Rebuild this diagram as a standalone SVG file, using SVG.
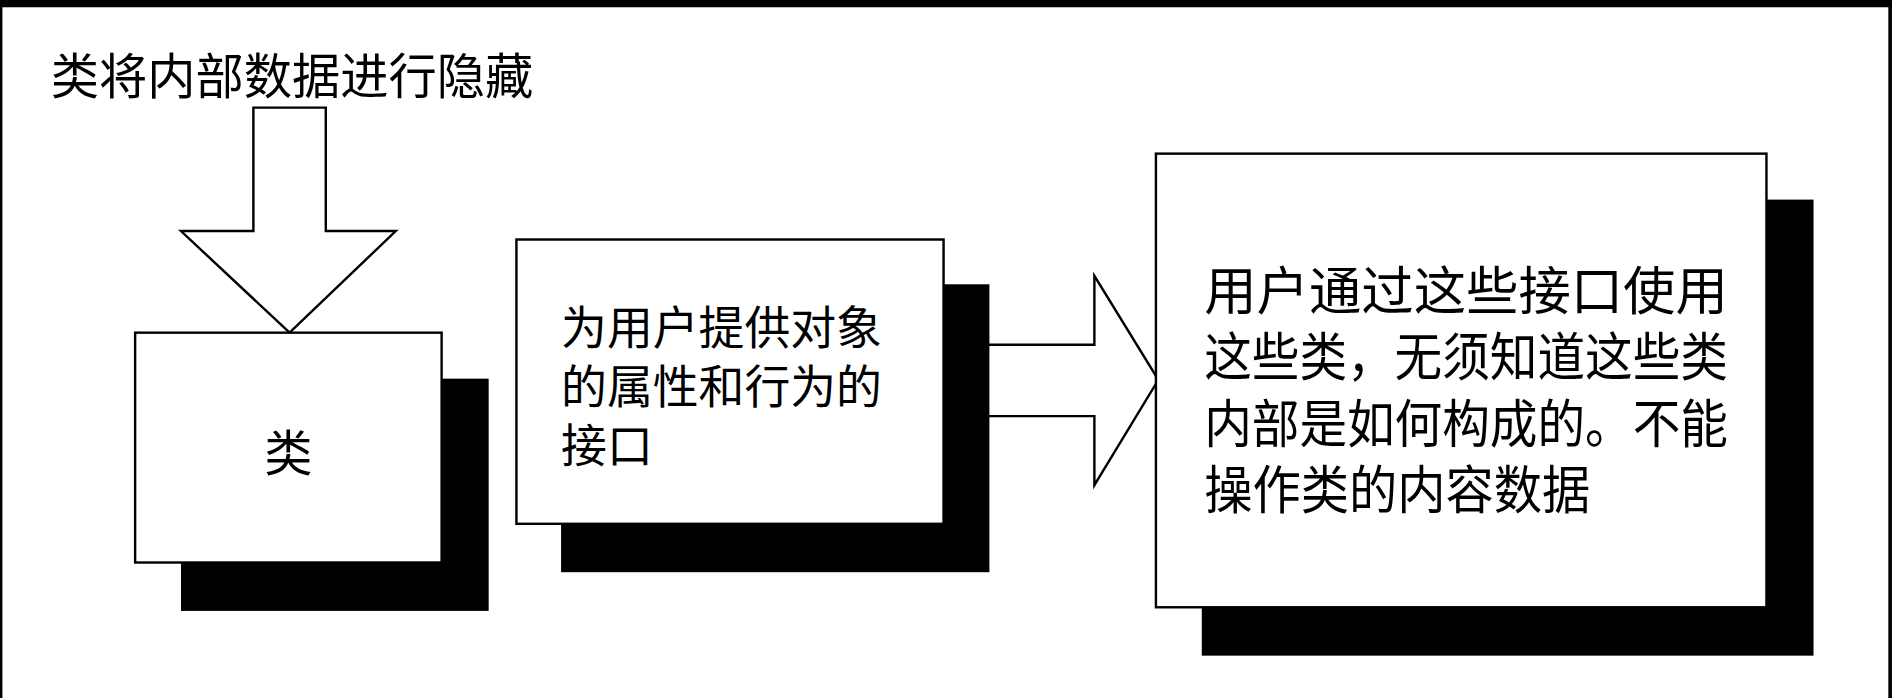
<svg xmlns="http://www.w3.org/2000/svg" width="1892" height="698" viewBox="0 0 1892 698">
<style>
.box{fill:#fff;stroke:#000;stroke-width:2}
.sh{fill:#000}
.t{font-family:"Liberation Serif","Noto Sans CJK SC",serif;fill:#000}
</style>
<rect width="1892" height="698" fill="#fff"/>
<g transform="scale(1.2066,1.2097)">
<g id="frame"><rect x="0" y="0" width="1568" height="6" fill="#000"/><rect x="0" y="0" width="2" height="577" fill="#000"/><rect x="1565" y="0" width="3" height="577" fill="#000"/></g>
<g id="title"><text class="t" x="42" y="78" font-size="40" textLength="400" lengthAdjust="spacingAndGlyphs">类将内部数据进行隐藏</text></g>
<g id="connectors">
<path d="M210,89 L270,89 L270,191 L328,191 L240,275 L150,191 L210,191 Z" class="box"/>
<path d="M782,285 L907,285 L907,228 L960,314 L907,401 L907,344 L782,344" class="box"/>
</g>
<g id="node-class"><rect class="sh" x="150" y="313" width="255" height="192"/><rect class="box" x="112" y="275" width="254" height="190"/><text class="t" x="239" y="389" font-size="40" text-anchor="middle">类</text></g>
<g id="node-interface"><rect class="sh" x="465" y="235" width="355" height="238"/><rect class="box" x="428" y="198" width="354" height="235"/>
<text class="t" font-size="38"><tspan x="465" y="284">为用户提供对象</tspan><tspan x="465" y="333">的属性和行为的</tspan><tspan x="465" y="382">接口</tspan></text></g>
<g id="node-user"><rect class="sh" x="996" y="165" width="507" height="377"/><rect class="box" x="958" y="127" width="506" height="375"/>
<g class="t" font-size="43">
<text x="998" y="256" textLength="434" lengthAdjust="spacingAndGlyphs">用户通过这些接口使用</text>
<text x="998" y="311" textLength="434" lengthAdjust="spacingAndGlyphs">这些类，无须知道这些类</text>
<text x="998" y="366" textLength="434" lengthAdjust="spacingAndGlyphs">内部是如何构成的。不能</text>
<text x="998" y="421" textLength="320" lengthAdjust="spacingAndGlyphs">操作类的内容数据</text>
</g></g>
</g>
</svg>
